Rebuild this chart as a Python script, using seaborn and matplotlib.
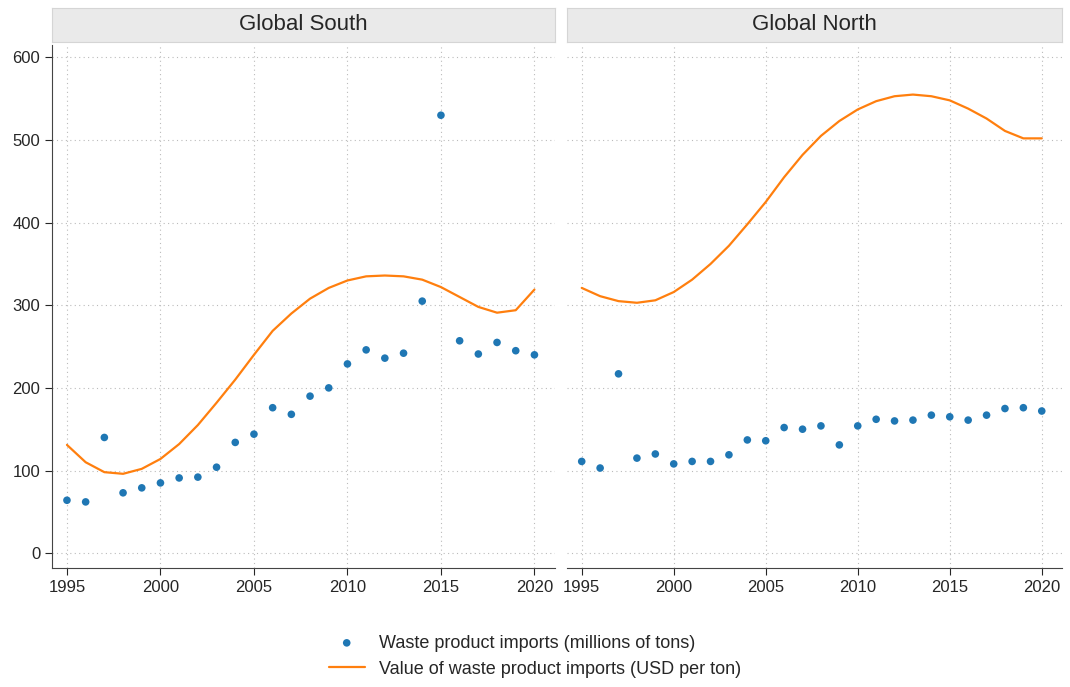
import matplotlib
matplotlib.use("Agg")
import matplotlib.pyplot as plt
import seaborn as sns
import pandas as pd

years = list(range(1995, 2021))
south_tons = [64,62,140,73,79,85,91,92,104,134,144,176,168,190,200,229,246,236,242,305,530,257,241,255,245,240]
south_value = [131,110,98,96,102,114,132,155,182,210,240,269,290,308,321,330,335,336,335,331,322,310,298,291,294,319]
north_tons = [111,103,217,115,120,108,111,111,119,137,136,152,150,154,131,154,162,160,161,167,165,161,167,175,176,172]
north_value = [321,311,305,303,306,316,331,350,372,398,425,455,482,505,523,537,547,553,555,553,548,538,526,511,502,502]
panels = ["Global South", "Global North"]

sns.set_style("white")
plt.rcParams['font.family'] = ['Liberation Sans', 'DejaVu Sans']
W, H = 1070, 687
fig = plt.figure(figsize=(10.7, 6.87), dpi=100)
boxes = [(52, 555), (567, 1062)]
ax_top, ax_bot = 45, 568
data = [(south_tons, south_value), (north_tons, north_value)]
blue, orange = "#1f77b4", "#ff7f0e"
axes = []
for i, ((x0, x1), name, (t, v)) in enumerate(zip(boxes, panels, data)):
    ax = fig.add_axes([x0 / W, 1 - ax_bot / H, (x1 - x0) / W, (ax_bot - ax_top) / H])
    strip = fig.add_axes([x0 / W, 1 - 42 / H, (x1 - x0) / W, 34 / H])
    strip.set_facecolor("#eaeaea")
    strip.set_xticks([]); strip.set_yticks([])
    for s in strip.spines.values():
        s.set_color("#d5d5d5")
    strip.text(0.5, 0.5, name, ha="center", va="center", fontsize=16, transform=strip.transAxes)
    df = pd.DataFrame({"year": years, "tons": t, "value": v})
    sns.scatterplot(data=df, x="year", y="tons", ax=ax, color=blue, s=30, edgecolor="none",
                    label="Waste product imports (millions of tons)" if i == 0 else None, zorder=3)
    sns.lineplot(data=df, x="year", y="value", ax=ax, color=orange, lw=1.6,
                 label="Value of waste product imports (USD per ton)" if i == 0 else None)
    ax.set_xlim(1994.2, 2021.1)
    ax.set_ylim(-18, 615)
    ax.set_xticks([1995, 2000, 2005, 2010, 2015, 2020])
    ax.set_yticks([0, 100, 200, 300, 400, 500, 600])
    ax.grid(True, linestyle=(0, (1, 3)), color="#bbbbbb", lw=0.8)
    ax.set_xlabel(""); ax.set_ylabel("")
    for s in ["top", "right"]:
        ax.spines[s].set_visible(False)
    ax.spines["bottom"].set_color("#444444")
    ax.tick_params(axis="both", labelsize=12, length=5, direction="out", bottom=True, left=(i == 0))
    if i == 1:
        ax.spines["left"].set_visible(False)
        ax.tick_params(axis="y", left=False, labelleft=False)
    else:
        ax.spines["left"].set_color("#444444")
    if ax.get_legend():
        ax.get_legend().remove()
    axes.append(ax)
h, l = axes[0].get_legend_handles_labels()
fig.legend(h, l, loc="lower center", ncol=1, frameon=False, fontsize=13, bbox_to_anchor=(0.5, -0.01))
fig.savefig("out.png", dpi=100)
